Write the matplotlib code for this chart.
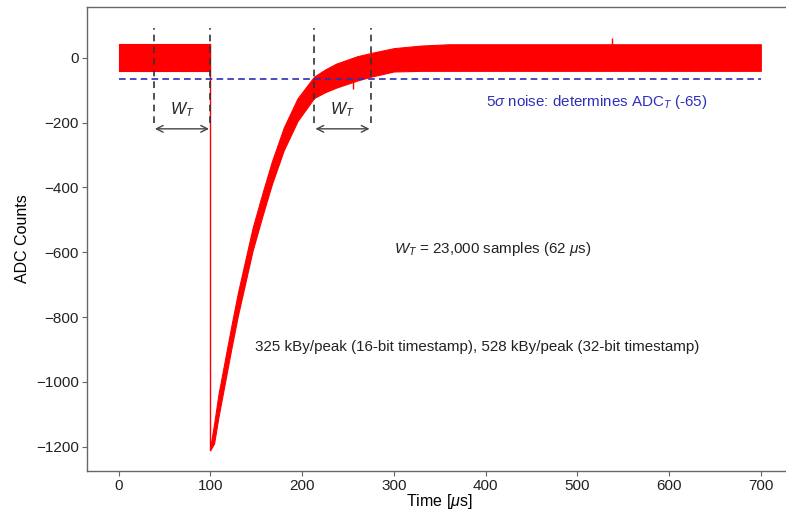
import numpy as np
import matplotlib.pyplot as plt

plt.rcParams['font.family'] = ['Liberation Sans', 'DejaVu Sans']
plt.rcParams['mathtext.fontset'] = 'custom'
plt.rcParams['mathtext.rm'] = 'Liberation Sans'
plt.rcParams['mathtext.it'] = 'Liberation Sans:italic'

# --- waveform envelope (ADC counts vs time in us) ---
base_t = [0, 100]
base_hi = [44, 44]
base_lo = [-42, -42]

decay_t = [100, 104, 109, 116, 123, 130, 138, 146, 157, 167, 180, 195,
           213, 225, 237, 260, 275, 300, 330, 360, 700]
decay_hi = [-1200, -1130, -1035, -930, -825, -725, -625, -525, -415, -320,
            -215, -125, -58, -36, -18, 5, 15, 30, 38, 42, 42]
decay_lo = [-1210, -1190, -1105, -1000, -895, -795, -695, -595, -485, -390,
            -285, -195, -124, -106, -92, -70, -58, -42, -40, -40, -40]

# isolated noise spikes
spike_t = [255, 538]
spike_from = [-60, 35]
spike_to = [-95, 62]

# annotation values
threshold = -65
window_edges = [38, 100, 213, 275]
window_pairs = [(38, 100), (213, 275)]


fig = plt.figure(figsize=(7.86, 5.13), dpi=100)
ax = fig.add_axes([87 / 786, 1 - 471 / 513, (792 - 87) / 786, (471 - 7) / 513])

red = '#ff0000'
ax.fill_between(base_t, base_lo, base_hi, color=red, linewidth=0.8, edgecolor=red)
ax.fill_between(decay_t, decay_lo, decay_hi, color=red, linewidth=0.8, edgecolor=red)
ax.plot([100, 100], [base_hi[-1], decay_lo[0]], color=red, lw=1.0)
ax.vlines(spike_t, spike_from, spike_to, color=red, lw=1.0)

# threshold line
ax.plot([0, 700], [threshold, threshold], color='#2e2eb8', lw=1.2,
        linestyle=(0, (4, 2.5)))

# window markers
for x in window_edges:
    ax.plot([x, x], [-200, 93], color='#333333', lw=1.2, linestyle=(0, (4, 3)))
for a, b in window_pairs:
    ax.annotate('', xy=(a, -219), xytext=(b, -219),
                arrowprops=dict(arrowstyle='<->', color='#444444', lw=1.0,
                                mutation_scale=12, shrinkA=1, shrinkB=1))
    ax.text((a + b) / 2, -160, '$W_T$', ha='center', va='center',
            fontsize=11.5, color='#222222')

ax.text(521, -135, r'5$\sigma$ noise: determines ADC$_T$ (-65)', ha='center',
        va='center', fontsize=10.9, color='#2e2eb8')
ax.text(408, -590, r'$W_T$ = 23,000 samples (62 $\mu$s)', ha='center',
        va='center', fontsize=10.9, color='#222222')
ax.text(391, -892, '325 kBy/peak (16-bit timestamp), 528 kBy/peak (32-bit timestamp)',
        ha='center', va='center', fontsize=10.9, color='#222222')

ax.set_xlim(-34.5, 734)
ax.set_ylim(-1275, 157)
ax.set_xticks(np.arange(0, 701, 100))
ax.set_yticks(np.arange(-1200, 1, 200))
ax.set_xlabel(r'Time [$\mu$s]', fontsize=11.5, labelpad=-1)
ax.set_ylabel('ADC Counts', fontsize=11.5, labelpad=4)
ax.tick_params(labelsize=11, colors='#222222', length=3.5, width=0.8, pad=2.5)
ax.tick_params(axis='both', color='#666666')
for s in ax.spines.values():
    s.set_color('#666666')
    s.set_linewidth(1.0)

fig.savefig('out.png', dpi=100)
